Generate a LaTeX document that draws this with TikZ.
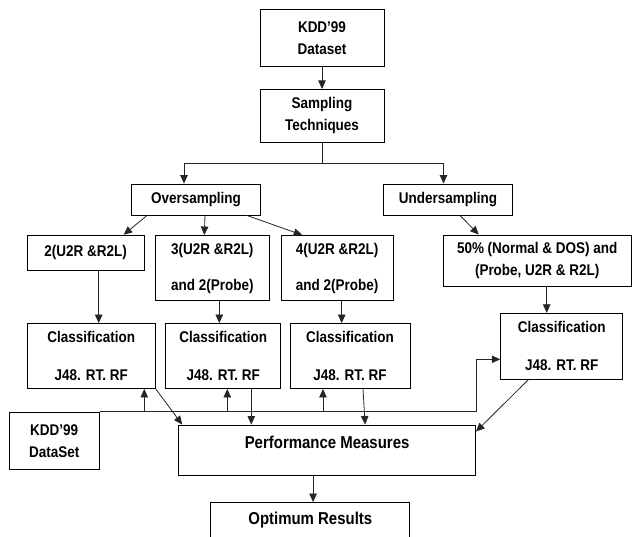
\documentclass[tikz,border=0pt]{standalone}
\usepackage{fontspec}
\setmainfont{Liberation Sans}[FakeStretch=0.87]
\usepackage{tikz}
\usetikzlibrary{
    arrows.meta,
    positioning,
    calc
}

\begin{document}
\begin{tikzpicture}[
    x=1pt, y=-1pt,
    % plain boxes with bold text
    block/.style={
        draw=black,
        line width=0.9pt,
        inner sep=0pt,
        align=center,
        font=\fontsize{15.5}{22}\selectfont\bfseries
    },
    bigblock/.style={
        block,
        font=\fontsize{17.2}{22}\selectfont\bfseries
    },
    flow/.style={
        -{Triangle[length=8.5pt,width=7.5pt]},
        line width=0.8pt,
        black!85
    },
    link/.style={
        line width=0.8pt,
        black!85
    }
]
    % Page frame
    \path[use as bounding box, fill=white] (0,0) rectangle (633,537);

    % Data set and sampling
    \node[block, minimum width=124pt, minimum height=57pt] (kdd) at (322,38) {KDD’99\\Dataset};
    \node[block, minimum width=124pt, minimum height=53pt, below=22pt of kdd] (samp) {Sampling\\Techniques};
    \coordinate (split) at ($(samp.south)+(0,21)$);

    % Two sampling branches
    \node[block, minimum width=129pt, minimum height=31pt] (over) at (196,199.5) {Oversampling};
    \node[block, minimum width=129pt, minimum height=31pt] (under) at (448,199.5) {Undersampling};

    % Sampled sets
    \node[block, minimum width=117pt, minimum height=35pt] (s2) at (85.7,252.7) {2(U2R \&R2L)};
    \node[block, minimum width=114pt, minimum height=65pt] (s3) at (212.3,268) {3(U2R \&R2L)\\[14pt]and 2(Probe)};
    \node[block, minimum width=112pt, minimum height=65pt] (s4) at (337.2,268) {4(U2R \&R2L)\\[14pt]and 2(Probe)};
    \node[block, minimum width=188pt, minimum height=51pt] (s50) at (537.2,260.5) {50\% (Normal \& DOS) and\\(Probe, U2R \& R2L)};

    % Classifiers
    \node[block, minimum width=128pt, minimum height=65pt] (c1) at (91.3,356) {Classification\\[16pt]J48. RT. RF};
    \node[block, minimum width=115pt, minimum height=65pt] (c2) at (223.3,356) {Classification\\[16pt]J48. RT. RF};
    \node[block, minimum width=120pt, minimum height=65pt] (c3) at (350,356) {Classification\\[16pt]J48. RT. RF};
    \node[block, minimum width=122pt, minimum height=66pt] (c4) at (561.7,346.3) {Classification\\[16pt]J48. RT. RF};

    % Test set, measures and results
    \node[block, minimum width=90pt, minimum height=57pt] (kdd2) at (54.2,440.8) {KDD’99\\DataSet};
    \node[bigblock, minimum width=297pt, minimum height=50pt, text height=12.5pt, text depth=16pt] (perf) at (327.1,450) {Performance Measures};
    \node[bigblock, minimum width=199pt, minimum height=36pt] (opt) at (310.3,520.5) {Optimum Results};

    % Top of the flow
    \draw[flow] (kdd) -- (samp);
    \draw[link] (samp.south) -- (split);
    \draw[flow] (split) -| ([xshift=-12pt]over.north);
    \draw[flow] (split) -| ([xshift=-4.5pt]under.north);

    % Sampling to sets
    \draw[flow] ([xshift=16pt]over.south west) -- ([xshift=-21pt]s2.north east);
    \draw[flow] ([xshift=9pt]over.south) -- ([xshift=-8pt]s3.north);
    \draw[flow] ([xshift=-14pt]over.south east) -- ([xshift=-35pt]s4.north);
    \draw[flow] ([xshift=12pt]under.south) -- ([xshift=36pt]s50.north west);

    % Sets to classifiers
    \draw[flow] ([xshift=13pt]s2.south) -- ([xshift=13pt]s2.south |- c1.north);
    \draw[flow] ([xshift=7pt]s3.south) -- ([xshift=7pt]s3.south |- c2.north);
    \draw[flow] ([xshift=4.5pt]s4.south) -- ([xshift=4.5pt]s4.south |- c3.north);
    \draw[flow] ([xshift=9.5pt]s50.south) -- ([xshift=9.5pt]s50.south |- c4.north);

    % Test data into every classifier
    \draw[flow] (kdd2.north east) -- (kdd2.north -| perf.east) |- ([yshift=-13pt]c4.west);
    \draw[flow] ([xshift=53pt]c1.south |- kdd2.north) -- ([xshift=53pt]c1.south);
    \draw[flow] ([xshift=4pt]c2.south |- kdd2.north) -- ([xshift=4pt]c2.south);
    \draw[flow] ([xshift=-27pt]c3.south |- kdd2.north) -- ([xshift=-27pt]c3.south);

    % Classifiers to measures
    \draw[flow] (c1.south east) -- ([xshift=4pt]perf.north west);
    \draw[flow] ([xshift=28pt]c2.south) -- ([xshift=28pt]c2.south |- perf.north);
    \draw[flow] ([xshift=13pt]c3.south) -- ([xshift=187pt]perf.north west);
    \draw[flow] ([xshift=28pt]c4.south west) -- ([yshift=-7pt]perf.north east);
    \draw[flow] ([xshift=-14pt]perf.south) -- ([xshift=-14pt]perf.south |- opt.north);
\end{tikzpicture}
\end{document}
